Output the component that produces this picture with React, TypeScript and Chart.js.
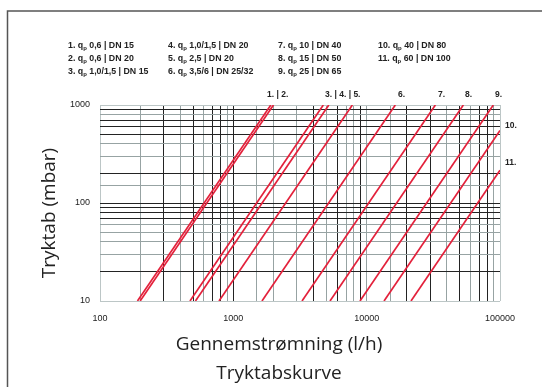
import { useEffect, useRef } from 'react';
import { Chart, registerables } from 'chart.js';
Chart.register(...registerables);

// Line (curve) data: straight lines on log-log axes, start and end points
const curveNames = ['1.', '2.', '3.', '4.', '5.', '6.', '7.', '8.', '9.', '10.', '11.'];
const startFlow = [191, 200, 473, 520, 781, 1640, 3275, 5310, 8910, 13500, 21500];
const startPressure = [10, 10, 10, 10, 10, 10, 10, 10, 10, 10, 10];
const endFlow = [1910, 2000, 4730, 5200, 7810, 16400, 32750, 53100, 89100, 100000, 100000];
const endPressure = [1000, 1000, 1000, 1000, 1000, 1000, 1000, 1000, 1000, 550, 216];

// Legend texts
const legendNumbers = ['1.', '2.', '3.', '4.', '5.', '6.', '7.', '8.', '9.', '10.', '11.'];
const legendQp = ['0,6', '0,6', '1,0/1,5', '1,0/1,5', '2,5', '3,5/6', '10', '15', '25', '40', '60'];
const legendDn = ['15', '20', '15', '20', '20', '25/32', '40', '50', '65', '80', '100'];

// Curve labels drawn at the plot top / right
const topLabels = ['1. | 2.', '3. | 4. | 5.', '6.', '7.', '8.', '9.'];
const sideLabels = ['10.', '11.'];

// Axis
const xMin = 100, xMax = 100000, yMin = 10, yMax = 1000;
const xTickLabels = [100, 1000, 10000, 100000];
const yTickLabels = [10, 100, 1000];
const xTitle = 'Gennemstrømning (l/h)';
const yTitle = 'Tryktab (mbar)';
const subTitle = 'Tryktabskurve';

const xDarkLines = [300, 500, 700, 800, 1000, 4000, 6000, 9000, 20000, 30000, 50000, 70000, 80000];
const yDarkLines = [20, 70, 80, 90, 100, 200, 500, 600, 700, 900];

const DARK = '#232323';
const GRAY = '#97a3a3';
const EDGE = '#bcc6c6';
const RED = '#e3213b';

function gridColorX(v: number) {
  if (v === xMin || v === xMax) return EDGE;
  return xDarkLines.includes(Math.round(v)) ? DARK : GRAY;
}
function gridColorY(v: number) {
  if (v === yMin || v === yMax) return EDGE;
  return yDarkLines.includes(Math.round(v)) ? DARK : GRAY;
}

const textPlugin = {
  id: 'texts',
  afterDraw(chart: any) {
    const ctx = chart.ctx as CanvasRenderingContext2D;
    ctx.save();
    // frame
    ctx.strokeStyle = '#555';
    ctx.lineWidth = 1.5;
    ctx.beginPath();
    ctx.moveTo(7.5, 387);
    ctx.lineTo(7.5, 11);
    ctx.lineTo(542, 11);
    ctx.stroke();

    // legend
    const colX = [68, 168, 278, 378];
    const rowY = [46, 59, 72];
    ctx.fillStyle = '#222';
    ctx.textBaseline = 'middle';
    ctx.textAlign = 'left';
    const f = 'bold 8.8px "Liberation Sans", Arial, sans-serif';
    const fs = 'bold 6px "Liberation Sans", Arial, sans-serif';
    for (let i = 0; i < legendNumbers.length; i++) {
      const col = Math.floor(i / 3);
      const row = i % 3;
      let x = colX[col];
      const y = rowY[row];
      ctx.font = f;
      const a = legendNumbers[i] + ' q';
      ctx.fillText(a, x, y);
      x += ctx.measureText(a).width;
      ctx.font = fs;
      ctx.fillText('p', x, y + 2);
      x += ctx.measureText('p').width;
      ctx.font = f;
      ctx.fillText(' ' + legendQp[i] + ' | DN ' + legendDn[i], x, y);
    }

    // curve labels
    ctx.font = 'bold 8.5px "Liberation Sans", Arial, sans-serif';
    const topX = [267, 325, 398, 438, 465, 495];
    topLabels.forEach((t, i) => ctx.fillText(t, topX[i], 95));
    const sideY = [126, 163];
    sideLabels.forEach((t, i) => ctx.fillText(t, 505, sideY[i]));

    // titles
    ctx.fillStyle = '#222';
    ctx.font = '19px "Open Sans", sans-serif';
    ctx.textAlign = 'center';
    ctx.fillText(xTitle, 279, 345);
    ctx.fillText(subTitle, 279, 374);
    ctx.translate(50, 213);
    ctx.rotate(-Math.PI / 2);
    ctx.fillText(yTitle, 0, 0);
    ctx.restore();
  },
};

export default function App() {
  const ref = useRef<HTMLCanvasElement | null>(null);
  useEffect(() => {
    if (!ref.current) return;
    const datasets = curveNames.map((name, i) => ({
      label: name,
      data: [
        { x: startFlow[i], y: startPressure[i] },
        { x: endFlow[i], y: endPressure[i] },
      ],
      borderColor: RED,
      borderWidth: 1.7,
      pointRadius: 0,
      fill: false,
      tension: 0,
    }));
    const chart = new Chart(ref.current, {
      type: 'line',
      data: { datasets },
      plugins: [textPlugin],
      options: {
        animation: false,
        responsive: false,
        layout: { padding: { top: 105, right: 42, left: 0, bottom: 0 } },
        plugins: { legend: { display: false }, tooltip: { enabled: false } },
        scales: {
          x: {
            type: 'logarithmic',
            min: xMin,
            max: xMax,
            border: { display: false },
            grid: {
              drawTicks: false,
              color: (c: any) => gridColorX(c.tick ? c.tick.value : 0),
              lineWidth: 1,
            },
            afterFit: (s: any) => { s.height = 86; },
            ticks: {
              autoSkip: false,
              maxRotation: 0,
              padding: 12,
              color: '#222',
              font: { family: '"Liberation Sans", Arial, sans-serif', size: 9 },
              callback: (v: any) => (xTickLabels.includes(Number(v)) ? String(v) : ''),
            },
          },
          y: {
            type: 'logarithmic',
            min: yMin,
            max: yMax,
            border: { display: false },
            grid: {
              drawTicks: false,
              color: (c: any) => gridColorY(c.tick ? c.tick.value : 0),
              lineWidth: 1,
            },
            afterFit: (s: any) => { s.width = 100; },
            ticks: {
              autoSkip: false,
              padding: 10,
              color: '#222',
              font: { family: '"Liberation Sans", Arial, sans-serif', size: 9 },
              callback: (v: any) => (yTickLabels.includes(Number(v)) ? String(v) : ''),
            },
          },
        },
      },
    });
    return () => chart.destroy();
  }, []);
  return (
    <div style={{ position: 'fixed', left: 0, top: 0, width: 542, height: 387, background: '#fff' }}>
      <canvas ref={ref} width={542} height={387} style={{ width: 542, height: 387 }} />
    </div>
  );
}
